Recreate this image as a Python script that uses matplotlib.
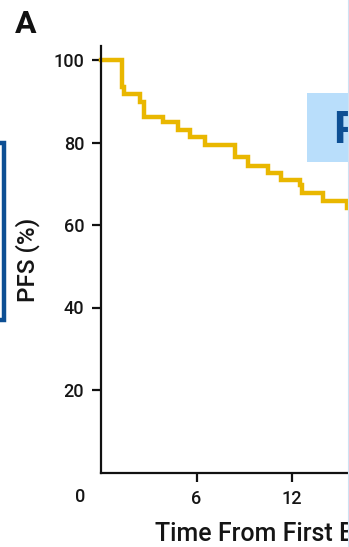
import matplotlib
matplotlib.use("Agg")
import matplotlib.pyplot as plt
from matplotlib.patches import Rectangle
from matplotlib.lines import Line2D

# Kaplan-Meier step data (months, PFS %)
TIMES = [0, 1.31, 1.44, 2.43, 2.68, 3.87, 4.83, 5.62, 6.54, 8.46,
         9.25, 10.52, 11.34, 12.51, 12.67, 13.96, 15.48, 17.0]
PFS = [100.0, 93.4, 91.8, 89.9, 86.3, 84.9, 83.1, 81.4, 79.5, 76.4,
       74.3, 72.6, 71.0, 69.6, 67.7, 65.8, 64.2, 64.2]

X_TICKS = [6, 12]
Y_TICKS = [20, 40, 60, 80, 100]

W, H = 349, 547
FONT = ["Roboto", "DejaVu Sans"]
CURVE = "#e9b700"
DARK_BLUE = "#0d4f94"
TEXT = "#151515"


def fx(x):
    return x / W


def fy(y):
    return 1 - y / H


def main():
    plt.rcParams["font.family"] = FONT
    fig = plt.figure(figsize=(W / 100, H / 100), dpi=100)

    # axes: y spine at x=101.5 px, x spine at y=472.5 px
    left, bottom, top = 101.5, 472.5, 46
    px_per_month = 95 / 6
    xmax = 24
    ax = fig.add_axes([fx(left), fy(bottom), xmax * px_per_month / W, (bottom - top) / H])
    ax.set_xlim(0, xmax)
    ax.set_ylim(0, (bottom - top) / 4.125)

    ax.step(TIMES, PFS, where="post", color=CURVE, lw=3.2, solid_joinstyle="miter", clip_on=False)

    for s in ["top", "right"]:
        ax.spines[s].set_visible(False)
    for s in ["left", "bottom"]:
        ax.spines[s].set_linewidth(1.6)
        ax.spines[s].set_color("#111111")

    ax.set_xticks(X_TICKS)
    ax.set_xticklabels([str(t) for t in X_TICKS], fontweight="medium")
    ax.set_yticks(Y_TICKS)
    ax.set_yticklabels([str(t) for t in Y_TICKS], fontweight="medium")
    ax.tick_params(axis="both", length=6.5, width=1.6, color="#111111",
                   labelsize=13, labelcolor=TEXT, pad=6)

    # shared origin label
    fig.text(fx(80), fy(497), "0", fontsize=13, fontweight="medium", color=TEXT,
             ha="center", va="center")

    fig.text(fx(28), fy(260), "PFS (%)", fontsize=17.5, fontweight="medium", rotation=90,
             ha="center", va="center", color=TEXT)
    fig.text(fx(155), fy(541), "Time From First Bevacizumab Dose (months)",
             fontsize=18, fontweight="medium", ha="left", va="baseline", color=TEXT)

    fig.text(fx(15), fy(33), "A", fontsize=23, fontweight="bold",
             ha="left", va="baseline", color="#111111")

    # light blue callout box cut off at the right edge
    fig.add_artist(Rectangle((fx(307), fy(162)), fx(60), (162 - 93) / H,
                             transform=fig.transFigure, facecolor="#b9defb",
                             edgecolor="none", zorder=3))
    fig.text(fx(333), fy(143), "PFS", fontsize=32, fontweight="bold",
             color=DARK_BLUE, ha="left", va="baseline", zorder=4)

    # dark blue frame cut off at the left edge
    fig.add_artist(Rectangle((fx(-60), fy(320)), fx(63.5), (320 - 143) / H,
                             transform=fig.transFigure, facecolor="none",
                             edgecolor=DARK_BLUE, lw=3.2, zorder=3))

    # faint panel edge on the right
    fig.add_artist(Line2D([fx(348), fx(348)], [0, 1], transform=fig.transFigure,
                          color="#cfe1f2", lw=0.8, zorder=5))

    fig.savefig("out.png", dpi=100)


if __name__ == "__main__":
    main()
